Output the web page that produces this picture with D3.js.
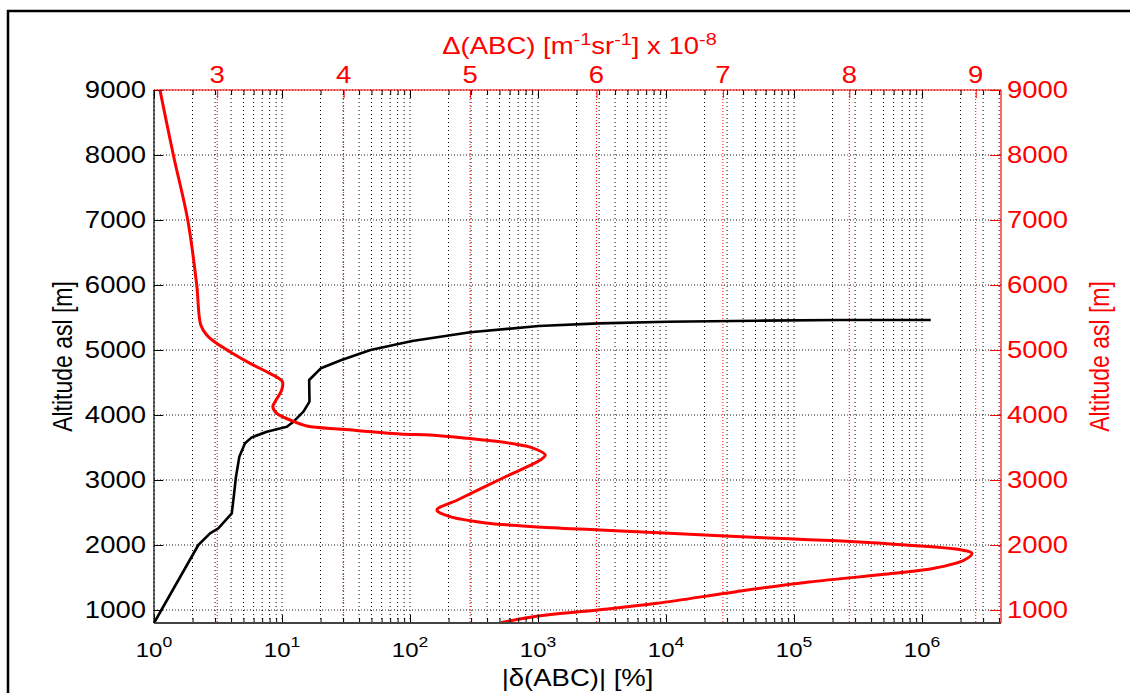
<!DOCTYPE html>
<html>
<head>
<meta charset="utf-8">
<script src="https://cdn.jsdelivr.net/npm/d3@7"></script>
<style>
  body { margin: 0; background: #fff; }
  text { font-family: "Liberation Sans", Arial, sans-serif; }
</style>
</head>
<body>
<div id="chart"></div>
<script>
// ---- data ----
// altitude tick labels (both y axes)
const altTicks = [1000, 2000, 3000, 4000, 5000, 6000, 7000, 8000, 9000];
// top axis tick labels, Δ(ABC) x 10^-8
const deltaTicks = [3, 4, 5, 6, 7, 8, 9];

// black curve: |δ(ABC)| [%] vs altitude
const relErr = [1.0, 2.22, 2.74, 3.18, 4.05, 4.17, 4.37, 4.64, 5.14, 5.8, 7.6, 10.9, 12.3, 14.7, 16.4,
  16.3, 20.1, 29.2, 49.1, 104, 295, 1011, 2985, 10200, 50800, 226000, 1170000];
const relAlt = [800, 2000, 2180, 2257, 2487, 2692, 3051, 3358, 3564, 3656, 3743, 3820, 3897, 4051, 4205,
  4538, 4718, 4846, 5000, 5138, 5272, 5369, 5410, 5435, 5451, 5462, 5462];

// red curve: Δ(ABC) [m^-1 sr^-1] x 10^-8 vs altitude
const absErr = [2.547, 2.653, 2.767, 2.838, 2.870, 2.917, 2.996, 3.10, 3.26, 3.405, 3.49, 3.516, 3.51,
  3.458, 3.44, 3.471, 3.577, 3.709, 3.999, 4.447, 4.685, 4.975, 5.318, 5.503, 5.595, 5.555, 5.338,
  5.089, 4.90, 4.738, 4.843, 5.107, 5.503, 6.03, 6.573, 7.417, 8.043, 8.45, 8.89, 8.97, 8.91,
  8.67, 8.356, 7.68, 7.105, 6.479, 6.01, 5.54, 5.243];
const absAlt = [9000, 8000, 7000, 6000, 5385, 5231, 5103, 4974, 4795, 4651, 4560, 4513, 4385,
  4205, 4128, 4025, 3923, 3831, 3780, 3708, 3692, 3641, 3564, 3487, 3385, 3308, 3103,
  2872, 2692, 2538, 2436, 2344, 2282, 2231, 2180, 2103, 2051, 2000, 1923, 1872, 1769,
  1641, 1564, 1430, 1282, 1103, 1000, 908, 805];

const width = 1130, height = 693;
const pL = 154, pR = 1001, pT = 90, pB = 623;
const SX = 1.17; // the original figure is a bit wider than tall
const fs = 23.5;
const red = "#ff0000";

const svg = d3.select("#chart").append("svg")
  .attr("width", width).attr("height", height);

svg.append("rect").attr("width", width).attr("height", height).attr("fill", "#fff");

// figure frame
svg.append("path").attr("d", "M8,693V11H1130")
  .attr("fill", "none").attr("stroke", "#000").attr("stroke-width", 2.5);

const x = d3.scaleLog().domain([1, 4.14e6]).range([pL, pR]);
const xTop = d3.scaleLinear().domain([2.5, 9.2]).range([pL, pR]);
const y = d3.scaleLinear().domain([800, 9000]).range([pB, pT]);

const logTicks = x.ticks();
const isMajor = d => Math.abs(Math.log10(d) - Math.round(Math.log10(d))) < 1e-9;
const majors = logTicks.filter(isMajor);
const minors = logTicks.filter(d => !isMajor(d));

// grid
const grid = svg.append("g");
grid.selectAll(".vg").data(logTicks).enter().append("line")
  .attr("x1", d => x(d)).attr("x2", d => x(d))
  .attr("y1", pT).attr("y2", pB)
  .attr("stroke", "#000").attr("stroke-width", 1).attr("stroke-dasharray", "1,3");
grid.selectAll(".vr").data(deltaTicks).enter().append("line")
  .attr("x1", d => xTop(d)).attr("x2", d => xTop(d))
  .attr("y1", pT).attr("y2", pB)
  .attr("stroke", red).attr("stroke-width", 1).attr("stroke-dasharray", "1,2");
grid.selectAll(".hg").data(altTicks).enter().append("line")
  .attr("x1", pL).attr("x2", pR)
  .attr("y1", d => y(d)).attr("y2", d => y(d))
  .attr("stroke", "#000").attr("stroke-width", 1).attr("stroke-dasharray", "1,5");
grid.selectAll(".hr").data(altTicks).enter().append("line")
  .attr("x1", pL).attr("x2", pR)
  .attr("y1", d => y(d)).attr("y2", d => y(d))
  .attr("stroke", red).attr("stroke-width", 1).attr("stroke-dasharray", "1,5")
  .attr("stroke-dashoffset", 3);

// curves
const blackLine = d3.line()
  .x((d, i) => x(relErr[i])).y((d, i) => y(relAlt[i]));
svg.append("path").datum(relErr).attr("d", blackLine)
  .attr("fill", "none").attr("stroke", "#000").attr("stroke-width", 2.6)
  .attr("stroke-linejoin", "round");

const redLine = d3.line()
  .x((d, i) => xTop(absErr[i])).y((d, i) => y(absAlt[i]))
  .curve(d3.curveCatmullRom.alpha(0.5));
svg.append("path").datum(absErr).attr("d", redLine)
  .attr("fill", "none").attr("stroke", red).attr("stroke-width", 3)
  .attr("stroke-linejoin", "round");

// ---- black axes (bottom log, left altitude) ----
function plainAxis(g) {
  g.selectAll("text").remove();
  g.select(".domain").remove();
}
svg.append("g").attr("transform", `translate(0,${pB})`)
  .call(d3.axisBottom(x).tickValues(minors).tickSize(-5).tickFormat(""))
  .call(plainAxis).selectAll("line").attr("stroke", "#000");
svg.append("g").attr("transform", `translate(0,${pB})`)
  .call(d3.axisBottom(x).tickValues(majors).tickSize(-8).tickFormat(""))
  .call(plainAxis).selectAll("line").attr("stroke", "#000");
// mirrored ticks on the top edge
svg.append("g").attr("transform", `translate(0,${pT})`)
  .call(d3.axisTop(x).tickValues(minors).tickSize(-5).tickFormat(""))
  .call(plainAxis).selectAll("line").attr("stroke", "#000");
svg.append("g").attr("transform", `translate(0,${pT})`)
  .call(d3.axisTop(x).tickValues(majors).tickSize(-8).tickFormat(""))
  .call(plainAxis).selectAll("line").attr("stroke", "#000");
svg.append("g").attr("transform", `translate(${pL},0)`)
  .call(d3.axisLeft(y).tickValues(altTicks).tickSize(-9).tickFormat(""))
  .call(plainAxis).selectAll("line").attr("stroke", "#000");

svg.append("line").attr("x1", pL).attr("x2", pR).attr("y1", pB).attr("y2", pB)
  .attr("stroke", "#444").attr("stroke-width", 2);
svg.append("line").attr("x1", pL).attr("x2", pL).attr("y1", pT).attr("y2", pB)
  .attr("stroke", "#000").attr("stroke-width", 1.2);

// left tick labels
svg.append("g").selectAll("text").data(altTicks).enter().append("text")
  .attr("transform", d => `translate(146,${y(d)}) scale(${SX},1)`)
  .attr("dy", "0.36em").attr("text-anchor", "end")
  .attr("font-size", fs).attr("fill", "#000").text(d => d);

// bottom tick labels 10^k
const bl = svg.append("g").selectAll("text").data(majors).enter().append("text")
  .attr("transform", d => `translate(${x(d)},657) scale(${SX},1)`)
  .attr("text-anchor", "middle").attr("font-size", 20.5).attr("fill", "#000");
bl.append("tspan").text("10");
bl.append("tspan").attr("dy", -10).attr("font-size", 15).text(d => Math.round(Math.log10(d)));

// ---- red axes (top linear, right altitude) ----
svg.append("g").attr("transform", `translate(0,${pT})`)
  .call(d3.axisTop(xTop).tickValues(deltaTicks).tickSize(-8).tickFormat(""))
  .call(plainAxis).selectAll("line").attr("stroke", red);
svg.append("g").attr("transform", `translate(${pR},0)`)
  .call(d3.axisRight(y).tickValues(altTicks).tickSize(-11).tickFormat(""))
  .call(plainAxis).selectAll("line").attr("stroke", red);
svg.append("line").attr("x1", pL).attr("x2", pR).attr("y1", pT).attr("y2", pT)
  .attr("stroke", red).attr("stroke-width", 1.2);
svg.append("line").attr("x1", pR).attr("x2", pR).attr("y1", pT).attr("y2", pB)
  .attr("stroke", red).attr("stroke-width", 1.2);

svg.append("g").selectAll("text").data(deltaTicks).enter().append("text")
  .attr("transform", d => `translate(${xTop(d)},83) scale(${SX},1)`)
  .attr("text-anchor", "middle").attr("font-size", fs).attr("fill", red).text(d => d);

svg.append("g").selectAll("text").data(altTicks).enter().append("text")
  .attr("transform", d => `translate(1007,${y(d)}) scale(${SX},1)`)
  .attr("dy", "0.36em").attr("text-anchor", "start")
  .attr("font-size", fs).attr("fill", red).text(d => d);

// ---- axis titles ----
const cx = (pL + pR) / 2, cy = (pT + pB) / 2;

svg.append("text")
  .attr("transform", `translate(${cx},686) scale(${SX},1)`)
  .attr("text-anchor", "middle").attr("font-size", fs).attr("fill", "#000")
  .text("|δ(ABC)| [%]");

svg.append("text")
  .attr("transform", `translate(72,${cy}) scale(${SX},1) rotate(-90)`)
  .attr("text-anchor", "middle").attr("font-size", 23).attr("fill", "#000")
  .text("Altitude asl [m]");

svg.append("text")
  .attr("transform", `translate(1109,${cy}) scale(${SX},1) rotate(-90)`)
  .attr("text-anchor", "middle").attr("font-size", 23).attr("fill", red)
  .text("Altitude asl [m]");

const tt = svg.append("text")
  .attr("transform", `translate(${cx + 2},54) scale(${SX},1)`)
  .attr("text-anchor", "middle").attr("font-size", 23.5).attr("fill", red);
tt.append("tspan").text("Δ(ABC) [m");
tt.append("tspan").attr("dy", -9).attr("font-size", 17).text("-1");
tt.append("tspan").attr("dy", 9).text("sr");
tt.append("tspan").attr("dy", -9).attr("font-size", 17).text("-1");
tt.append("tspan").attr("dy", 9).text("] x 10");
tt.append("tspan").attr("dy", -9).attr("font-size", 17).text("-8");
</script>
</body>
</html>
